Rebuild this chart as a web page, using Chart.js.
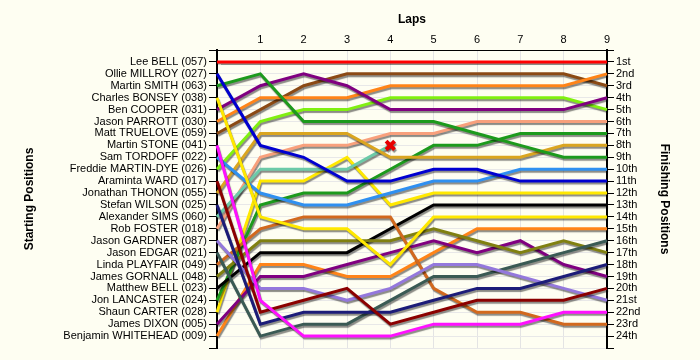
<!DOCTYPE html>
<html>
<head>
<meta charset="utf-8">
<style>
  html, body { margin: 0; padding: 0; background: #fefef2; }
  #wrap { width: 700px; height: 360px; }
</style>
</head>
<body>
<div id="wrap">
  <canvas id="chartLaps" width="700" height="360"></canvas>
</div>
<script src="https://cdn.jsdelivr.net/npm/chart.js@4"></script>
<script>
(function() {
    // laps 0..9, lap 0 = grid position
    const laps = [0, 1, 2, 3, 4, 5, 6, 7, 8, 9];

    const drivers = [
        'Lee BELL (057)', 'Ollie MILLROY (027)', 'Martin SMITH (063)', 'Charles BONSEY (038)',
        'Ben COOPER (031)', 'Jason PARROTT (030)', 'Matt TRUELOVE (059)', 'Martin STONE (041)',
        'Sam TORDOFF (022)', 'Freddie MARTIN-DYE (026)', 'Araminta WARD (017)', 'Jonathan THONON (055)',
        'Stefan WILSON (025)', 'Alexander SIMS (060)', 'Rob FOSTER (018)', 'Jason GARDNER (087)',
        'Jason EDGAR (021)', 'Linda PLAYFAIR (049)', 'James GORNALL (048)', 'Matthew BELL (023)',
        'Jon LANCASTER (024)', 'Shaun CARTER (028)', 'James DIXON (005)', 'Benjamin WHITEHEAD (009)'
    ];

    const finishLabels = [
        '1st', '2nd', '3rd', '4th', '5th', '6th', '7th', '8th', '9th', '10th', '11th', '12th',
        '13th', '14th', '15th', '16th', '17th', '18th', '19th', '20th', '21st', '22nd', '23rd', '24th'
    ];

    // position of each driver at the end of each lap
    const posLeeBell      = [1, 1, 1, 1, 1, 1, 1, 1, 1, 1];
    const posMillroy      = [2, 8, 9, 11, 11, 10, 10, 11, 11, 11];
    const posSmith        = [3, 2, 6, 6, 6, 6, 7, 8, 9, 9];
    const posBonsey       = [4, 14, 15, 15, 18, 14, 14, 14, 14, 14];
    const posCooper       = [5, 3, 2, 3, 5, 5, 5, 5, 5, 4];
    const posParrott      = [6, 4, 4, 4, 3, 3, 3, 3, 3, 2];
    const posTruelove     = [7, 5, 3, 2, 2, 2, 2, 2, 2, 3];
    const posStone        = [8, 21, 24, 24, 24, 23, 23, 23, 22, 22];
    const posTordoff      = [9, 12, 13, 13, 12, 11, 11, 10, 10, 10];
    const posMartinDye    = [10, 6, 5, 5, 4, 4, 4, 4, 4, 5];
    const posWard         = [11, 22, 21, 20, 23, 22, 21, 21, 21, 20];
    const posThonon       = [12, 7, 7, 7, 9, 9, 9, 9, 8, 8];
    const posWilson       = [13, 23, 22, 22, 22, 21, 20, 20, 19, 18];
    const posSims         = [14, 10, 10, 10, 8];   // retired on lap 4
    const posFoster       = [15, 9, 8, 8, 7, 7, 6, 6, 6, 6];
    const posGardner      = [16, 20, 20, 21, 20, 18, 18, 19, 20, 21];
    const posEdgar        = [17, 24, 23, 23, 21, 19, 19, 18, 17, 16];
    const posPlayfair     = [18, 15, 14, 14, 14, 20, 22, 22, 23, 23];
    const posGornall      = [19, 16, 16, 16, 16, 15, 16, 17, 16, 17];
    const posMatthewBell  = [20, 17, 17, 17, 15, 13, 13, 13, 13, 13];
    const posLancaster    = [21, 13, 12, 12, 10, 8, 8, 7, 7, 7];
    const posCarter       = [22, 11, 11, 9, 13, 12, 12, 12, 12, 12];
    const posDixon        = [23, 19, 19, 18, 17, 16, 17, 16, 18, 19];
    const posWhitehead    = [24, 18, 18, 19, 19, 17, 15, 15, 15, 15];

    const positions = [
        posLeeBell, posMillroy, posSmith, posBonsey, posCooper, posParrott, posTruelove, posStone,
        posTordoff, posMartinDye, posWard, posThonon, posWilson, posSims, posFoster, posGardner,
        posEdgar, posPlayfair, posGornall, posMatthewBell, posLancaster, posCarter, posDixon, posWhitehead
    ];

    const lineColors = [
        '#ff0000', '#0000d0', '#1c9a1c', '#ffe800', '#800080', '#ff8418', '#8b4a14', '#ff10ff',
        '#2f90f0', '#80f010', '#8b0000', '#daa520', '#1c1c78', '#6ccaa8', '#f8a07c', '#9478dc',
        '#3a5a54', '#d2691e', '#808010', '#000000', '#1c9a1c', '#ffe800', '#800080', '#ff8418'
    ];

    const datasets = drivers.map(function(name, i) {
        const retired = positions[i].length < laps.length;
        const last = positions[i].length - 1;
        return {
            label: name,
            data: positions[i],
            borderColor: lineColors[i],
            backgroundColor: lineColors[i],
            borderWidth: 3,
            tension: 0,
            fill: false,
            pointRadius: positions[i].map((p, j) => (retired && j === last) ? 6 : 0),
            pointStyle: 'crossRot',
            pointBorderColor: '#e80000',
            pointBorderWidth: 4,
            clip: false
        };
    });

    const bgPlugin = {
        id: 'bg',
        beforeDraw(chart) {
            const c = chart.ctx;
            c.save();
            c.fillStyle = '#fefef2';
            c.fillRect(0, 0, chart.width, chart.height);
            c.restore();
        }
    };

    // grey drop shadow under the lines
    const shadowPlugin = {
        id: 'shadow',
        beforeDatasetsDraw(chart) {
            const c = chart.ctx;
            c.save();
            c.shadowColor = 'rgba(0,0,0,0.45)';
            c.shadowOffsetX = 1;
            c.shadowOffsetY = 2;
            c.shadowBlur = 1;
        },
        afterDatasetsDraw(chart) {
            chart.ctx.restore();
        }
    };

    Chart.defaults.font.family = '"Liberation Sans", Arial, sans-serif';
    Chart.defaults.font.size = 11;
    Chart.defaults.color = '#000';

    const titleFont = { family: '"Liberation Sans", Arial, sans-serif', size: 12, weight: 'bold' };

    new Chart(document.getElementById('chartLaps').getContext('2d'), {
        type: 'line',
        data: { labels: laps, datasets: datasets },
        plugins: [bgPlugin, shadowPlugin],
        options: {
            responsive: false,
            animation: false,
            layout: { padding: { left: 0, right: 0, top: 0, bottom: 12 } },
            plugins: { legend: { display: false }, tooltip: { enabled: false } },
            scales: {
                x: {
                    position: 'top',
                    offset: false,
                    grid: { color: '#e4e4e4', drawTicks: false },
                    border: { color: '#000', width: 1 },
                    ticks: {
                        padding: 3,
                        maxRotation: 0,
                        callback: (v, i) => i === 0 ? '' : String(laps[i])
                    },
                    title: { display: true, text: 'Laps', font: titleFont, padding: { top: 12, bottom: 0 } },
                    afterFit: s => { s.height = 50; }
                },
                y: {
                    position: 'left',
                    reverse: true,
                    min: 0,
                    max: 25,
                    afterBuildTicks: s => { s.ticks = Array.from({ length: 26 }, (_, k) => ({ value: k })); },
                    grid: { color: '#e8e8e8', tickColor: '#000', tickLength: 8 },
                    border: { color: '#000', width: 2 },
                    ticks: {
                        padding: 2,
                        autoSkip: false,
                        callback: v => (v >= 1 && v <= 24) ? drivers[v - 1] : ''
                    },
                    title: { display: true, text: 'Starting Positions', font: titleFont, padding: { top: 22, bottom: 0 } },
                    afterFit: s => { s.width = 217; }
                },
                y2: {
                    position: 'right',
                    reverse: true,
                    min: 0,
                    max: 25,
                    afterBuildTicks: s => { s.ticks = Array.from({ length: 26 }, (_, k) => ({ value: k })); },
                    grid: { drawOnChartArea: false, tickColor: '#000', tickLength: 7 },
                    border: { color: '#000', width: 2 },
                    ticks: {
                        padding: 2,
                        autoSkip: false,
                        callback: v => (v >= 1 && v <= 24) ? finishLabels[v - 1] : ''
                    },
                    title: { display: true, text: 'Finishing Positions', font: titleFont, padding: { top: 28, bottom: 0 } },
                    afterFit: s => { s.width = 93; }
                }
            }
        }
    });
})();
</script>
</body>
</html>
